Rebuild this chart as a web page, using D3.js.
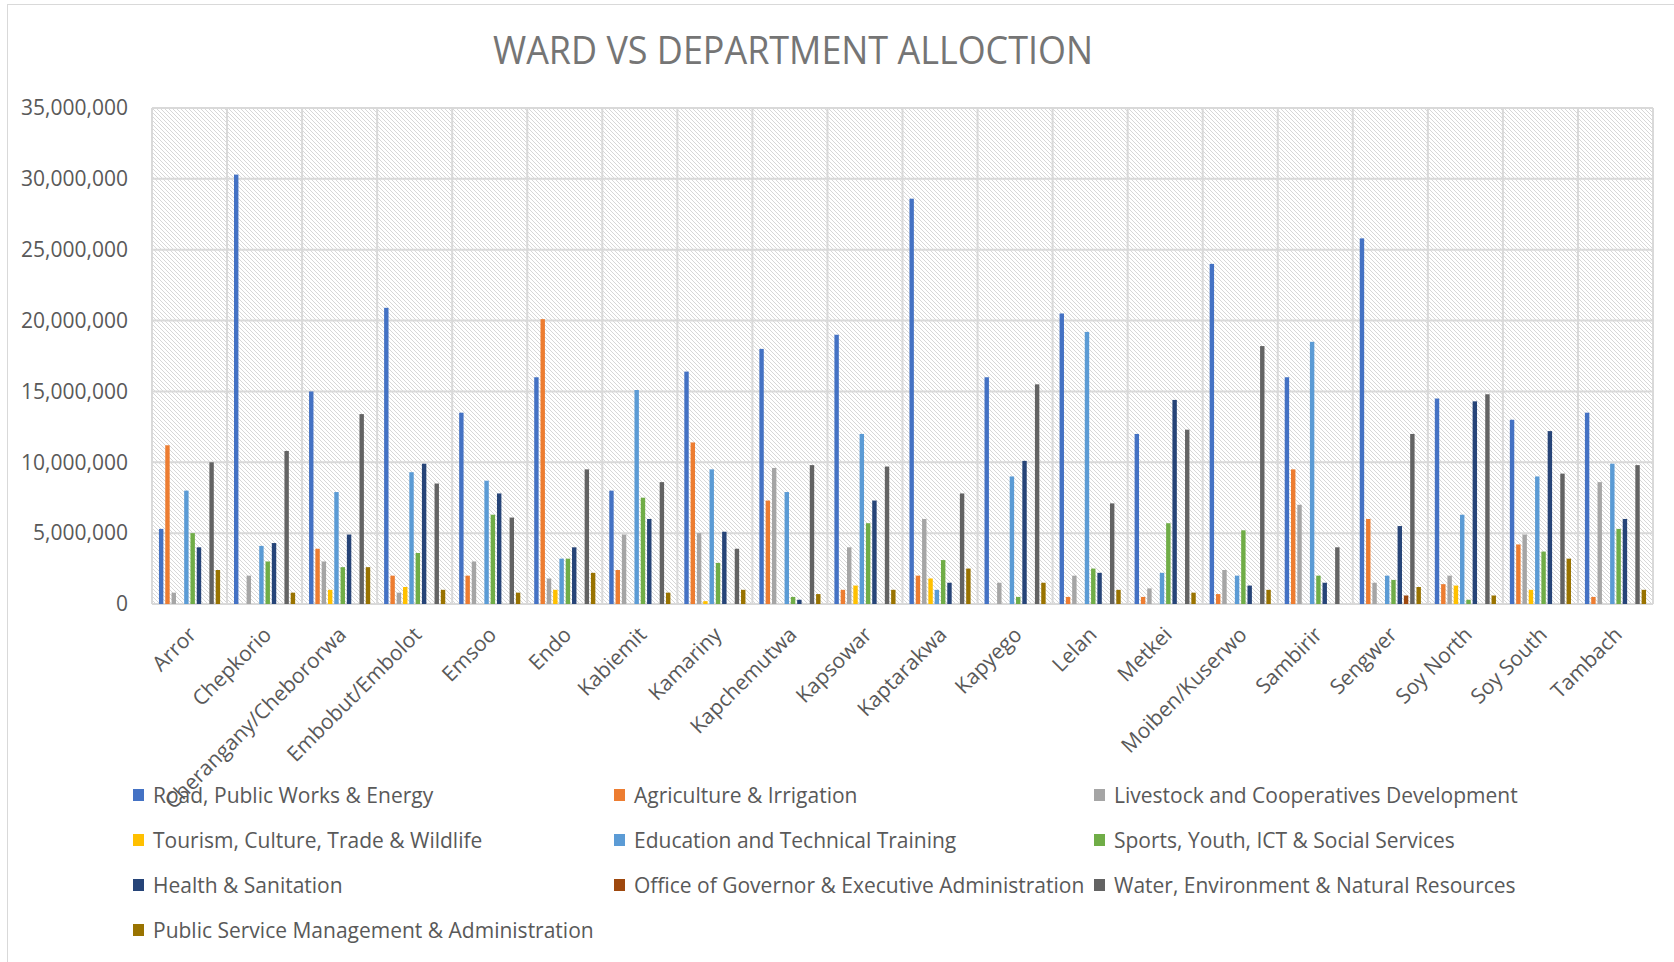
<!DOCTYPE html>
<html>
<head>
<meta charset="utf-8">
<script src="https://cdn.jsdelivr.net/npm/d3@7"></script>
<style>
  body { margin: 0; background: #fff; }
  text { font-family: "Open Sans", sans-serif; fill: #595959; }
</style>
</head>
<body>
<div id="chart"></div>
<script>
// Ward names along the x axis
const wards = ["Arror", "Chepkorio", "Cherangany/Chebororwa", "Embobut/Embolot", "Emsoo", "Endo",
    "Kabiemit", "Kamariny", "Kapchemutwa", "Kapsowar", "Kaptarakwa", "Kapyego", "Lelan", "Metkei",
    "Moiben/Kuserwo", "Sambirir", "Sengwer", "Soy North", "Soy South", "Tambach"];

// Departments (series) in legend order
const departments = ["Road, Public Works & Energy", "Agriculture & Irrigation",
    "Livestock and Cooperatives Development", "Tourism, Culture, Trade & Wildlife",
    "Education and Technical Training", "Sports, Youth, ICT & Social Services",
    "Health & Sanitation", "Office of Governor & Executive Administration",
    "Water, Environment & Natural Resources", "Public Service Management & Administration"];

// Allocation per ward for each department (millions)
const road      = [5.3, 30.3, 15.0, 20.9, 13.5, 16.0, 8.0, 16.4, 18.0, 19.0, 28.6, 16.0, 20.5, 12.0, 24.0, 16.0, 25.8, 14.5, 13.0, 13.5];
const agri      = [11.2, 0, 3.9, 2.0, 2.0, 20.1, 2.4, 11.4, 7.3, 1.0, 2.0, 0, 0.5, 0.5, 0.7, 9.5, 6.0, 1.4, 4.2, 0.5];
const livestock = [0.8, 2.0, 3.0, 0.8, 3.0, 1.8, 4.9, 5.0, 9.6, 4.0, 6.0, 1.5, 2.0, 1.1, 2.4, 7.0, 1.5, 2.0, 4.9, 8.6];
const tourism   = [0, 0, 1.0, 1.2, 0, 1.0, 0, 0.2, 0, 1.3, 1.8, 0, 0, 0, 0, 0, 0, 1.3, 1.0, 0];
const education = [8.0, 4.1, 7.9, 9.3, 8.7, 3.2, 15.1, 9.5, 7.9, 12.0, 1.0, 9.0, 19.2, 2.2, 2.0, 18.5, 2.0, 6.3, 9.0, 9.9];
const sports    = [5.0, 3.0, 2.6, 3.6, 6.3, 3.2, 7.5, 2.9, 0.5, 5.7, 3.1, 0.5, 2.5, 5.7, 5.2, 2.0, 1.7, 0.3, 3.7, 5.3];
const health    = [4.0, 4.3, 4.9, 9.9, 7.8, 4.0, 6.0, 5.1, 0.3, 7.3, 1.5, 10.1, 2.2, 14.4, 1.3, 1.5, 5.5, 14.3, 12.2, 6.0];
const governor  = [0, 0, 0, 0, 0, 0, 0, 0, 0, 0, 0, 0, 0, 0, 0, 0, 0.6, 0, 0, 0];
const water     = [10.0, 10.8, 13.4, 8.5, 6.1, 9.5, 8.6, 3.9, 9.8, 9.7, 7.8, 15.5, 7.1, 12.3, 18.2, 4.0, 12.0, 14.8, 9.2, 9.8];
const publicSvc = [2.4, 0.8, 2.6, 1.0, 0.8, 2.2, 0.8, 1.0, 0.7, 1.0, 2.5, 1.5, 1.0, 0.8, 1.0, 0, 1.2, 0.6, 3.2, 1.0];

const seriesValues = [road, agri, livestock, tourism, education, sports, health, governor, water, publicSvc];
const colors = ["#4472C4", "#ED7D31", "#A5A5A5", "#FFC000", "#5B9BD5", "#70AD47",
    "#264478", "#9E480E", "#636363", "#997300"];

const yTicks = [0, 5e6, 10e6, 15e6, 20e6, 25e6, 30e6, 35e6];

const width = 1674, height = 962;
const plot = { left: 152, right: 1653, top: 108, bottom: 604 };

const svg = d3.select("#chart").append("svg")
    .attr("width", width)
    .attr("height", height);

// Diagonal hatch used behind the bars
const defs = svg.append("defs");
const pat = defs.append("pattern")
    .attr("id", "hatch")
    .attr("patternUnits", "userSpaceOnUse")
    .attr("width", 4)
    .attr("height", 4);
pat.append("rect").attr("width", 4).attr("height", 4).attr("fill", "#fff");
pat.append("path")
    .attr("d", "M-1,-1 L5,5 M-1,3 L1,5 M3,-1 L5,1")
    .attr("stroke", "#d3d3d3")
    .attr("stroke-width", 0.9);

// Chart area border
svg.append("rect")
    .attr("x", 7.5).attr("y", 4.5)
    .attr("width", width).attr("height", height)
    .attr("fill", "none")
    .attr("stroke", "#d9d9d9");

// Title
svg.append("text")
    .attr("x", 793)
    .attr("y", 64)
    .attr("text-anchor", "middle")
    .style("font-size", "38px")
    .style("fill", "#757575")
    .attr("textLength", 600)
    .attr("lengthAdjust", "spacingAndGlyphs")
    .text("WARD VS DEPARTMENT ALLOCTION");

const x0 = d3.scaleBand().domain(wards).range([plot.left, plot.right]).paddingInner(0.135).paddingOuter(0.0675);
const x1 = d3.scaleBand().domain(d3.range(departments.length)).range([0, x0.bandwidth()]).padding(0.3);
const y = d3.scaleLinear().domain([0, 35e6]).range([plot.bottom, plot.top]);

svg.append("rect")
    .attr("x", plot.left).attr("y", plot.top)
    .attr("width", plot.right - plot.left).attr("height", plot.bottom - plot.top)
    .attr("fill", "url(#hatch)");

// Horizontal gridlines
svg.append("g")
    .selectAll("line")
    .data(yTicks)
    .enter()
    .append("line")
    .attr("x1", plot.left).attr("x2", plot.right)
    .attr("y1", d => y(d)).attr("y2", d => y(d))
    .attr("stroke", "#d9d9d9")
    .attr("stroke-width", 2);

// Vertical gridlines at ward boundaries
const step = x0.step();
svg.append("g")
    .selectAll("line")
    .data(d3.range(wards.length + 1))
    .enter()
    .append("line")
    .attr("x1", i => plot.left + i * step).attr("x2", i => plot.left + i * step)
    .attr("y1", plot.top).attr("y2", plot.bottom)
    .attr("stroke", "#d9d9d9")
    .attr("stroke-width", 2);

// Y axis labels
const yAxis = svg.append("g")
    .attr("transform", `translate(${plot.left},0)`)
    .call(d3.axisLeft(y).tickValues(yTicks).tickSize(0).tickPadding(24).tickFormat(d3.format(",")));
yAxis.select(".domain").remove();
yAxis.selectAll("text").style("font-size", "21px").style("fill", "#595959").attr("font-family", null);

// Bars
const groups = svg.append("g")
    .selectAll("g")
    .data(wards)
    .enter()
    .append("g")
    .attr("transform", d => `translate(${x0(d)},0)`);

groups.selectAll("rect")
    .data((w, wi) => seriesValues.map((vals, si) => ({ si, v: vals[wi] * 1e6 })).filter(d => d.v > 0))
    .enter()
    .append("rect")
    .attr("x", d => x1(d.si))
    .attr("y", d => y(d.v))
    .attr("width", x1.bandwidth())
    .attr("height", d => plot.bottom - y(d.v))
    .attr("fill", d => colors[d.si]);

// X axis labels, rotated
svg.append("g")
    .selectAll("text")
    .data(wards)
    .enter()
    .append("text")
    .attr("transform", d => `translate(${x0(d) + x0.bandwidth() / 2 + 8},${plot.bottom + 32}) rotate(-45)`)
    .attr("text-anchor", "end")
    .style("font-size", "21px")
    .text(d => d);

// Legend
const legendX = [133, 614, 1094];
const legendY = [795, 840, 885, 930];
departments.forEach((name, i) => {
    const row = svg.append("g")
        .attr("transform", `translate(${legendX[i % 3]},${legendY[Math.floor(i / 3)]})`);
    row.append("rect")
        .attr("x", 0).attr("y", -6)
        .attr("width", 11).attr("height", 12)
        .attr("fill", colors[i]);
    row.append("text")
        .attr("x", 20)
        .attr("y", 7.5)
        .style("font-size", "21px")
        .text(name);
});
</script>
</body>
</html>
